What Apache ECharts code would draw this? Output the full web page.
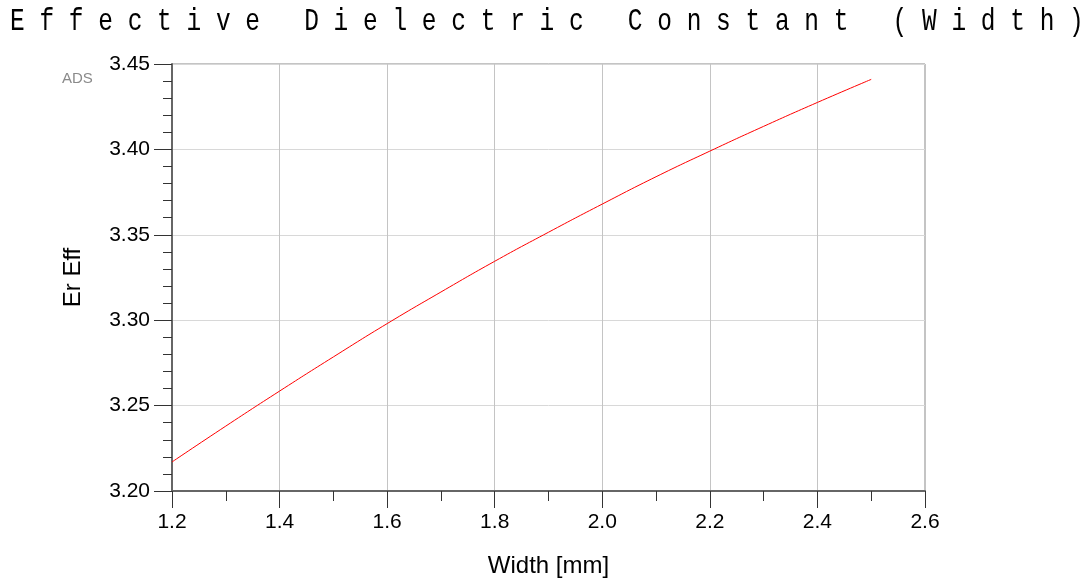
<!DOCTYPE html>
<html><head><meta charset="utf-8">
<script src="https://cdn.jsdelivr.net/npm/echarts@6/dist/echarts.min.js"></script>
<style>html,body{margin:0;padding:0;background:#fff}#c{width:1091px;height:583px}</style>
</head><body><div id="c"></div>
<script>
const titleText = "Effective Dielectric Constant (Width)";
const xName = "Width [mm]";
const yName = "Er Eff";
const widths = [1.2, 1.3, 1.4, 1.5, 1.6, 1.7, 1.8, 1.9, 2.0, 2.1, 2.2, 2.3, 2.4, 2.5];
const erEff = [3.217, 3.238, 3.2585, 3.2785, 3.298, 3.3165, 3.3345, 3.3515, 3.368, 3.384, 3.399, 3.4135, 3.4275, 3.441];

const chart = echarts.init(document.getElementById('c'), null, {renderer: 'canvas'});
const spaced = titleText.split('').join(' ');
chart.setOption({
  animation: false,
  backgroundColor: '#fff',
  grid: {left: 172, right: 166, top: 64, bottom: 91, show: true, borderColor: '#888', borderWidth: 1},
  graphic: [
    {type: 'text', left: 10, top: 6, scaleX: 0.766, style: {text: spaced, font: '32px "Liberation Mono"', fill: '#000'}},
    {type: 'text', left: 62, top: 71, style: {text: 'ADS', font: '15px "Liberation Sans"', fill: '#8a8a8a', shadowColor: 'rgba(0,0,0,0.35)', shadowBlur: 2, shadowOffsetX: 1, shadowOffsetY: 1}}
  ],
  xAxis: {
    type: 'value', min: 1.2, max: 2.6, interval: 0.2,
    name: xName, nameLocation: 'middle', nameGap: 63,
    nameTextStyle: {fontSize: 24, color: '#000', fontFamily: 'Liberation Sans'},
    axisLine: {lineStyle: {color: '#666', width: 2}},
    axisTick: {show: true, inside: false, length: 17, lineStyle: {color: '#333'}},
    minorTick: {show: true, splitNumber: 2, length: 10, lineStyle: {color: '#333'}},
    axisLabel: {margin: 21, fontSize: 21, color: '#000', fontFamily: 'Liberation Sans', formatter: v => v.toFixed(1)},
    splitLine: {show: true, lineStyle: {color: '#c4c4c4', width: 1}}
  },
  yAxis: {
    type: 'value', min: 3.20, max: 3.45, interval: 0.05,
    name: yName, nameLocation: 'middle', nameGap: 87, nameRotate: 90,
    nameTextStyle: {fontSize: 24, color: '#000', fontFamily: 'Liberation Sans'},
    axisLine: {show: true, lineStyle: {color: '#666', width: 2}},
    axisTick: {show: true, inside: false, length: 18, lineStyle: {color: '#333'}},
    minorTick: {show: true, splitNumber: 5, length: 9, lineStyle: {color: '#333'}},
    axisLabel: {margin: 22, fontSize: 21, color: '#000', fontFamily: 'Liberation Sans', formatter: v => v.toFixed(2)},
    splitLine: {show: true, lineStyle: {color: '#d8d8d8', width: 1}}
  },
  series: [{
    type: 'line', smooth: true, showSymbol: false,
    data: widths.map((w, i) => [w, erEff[i]]),
    lineStyle: {color: '#ff0000', width: 1}
  }]
});
</script></body></html>
